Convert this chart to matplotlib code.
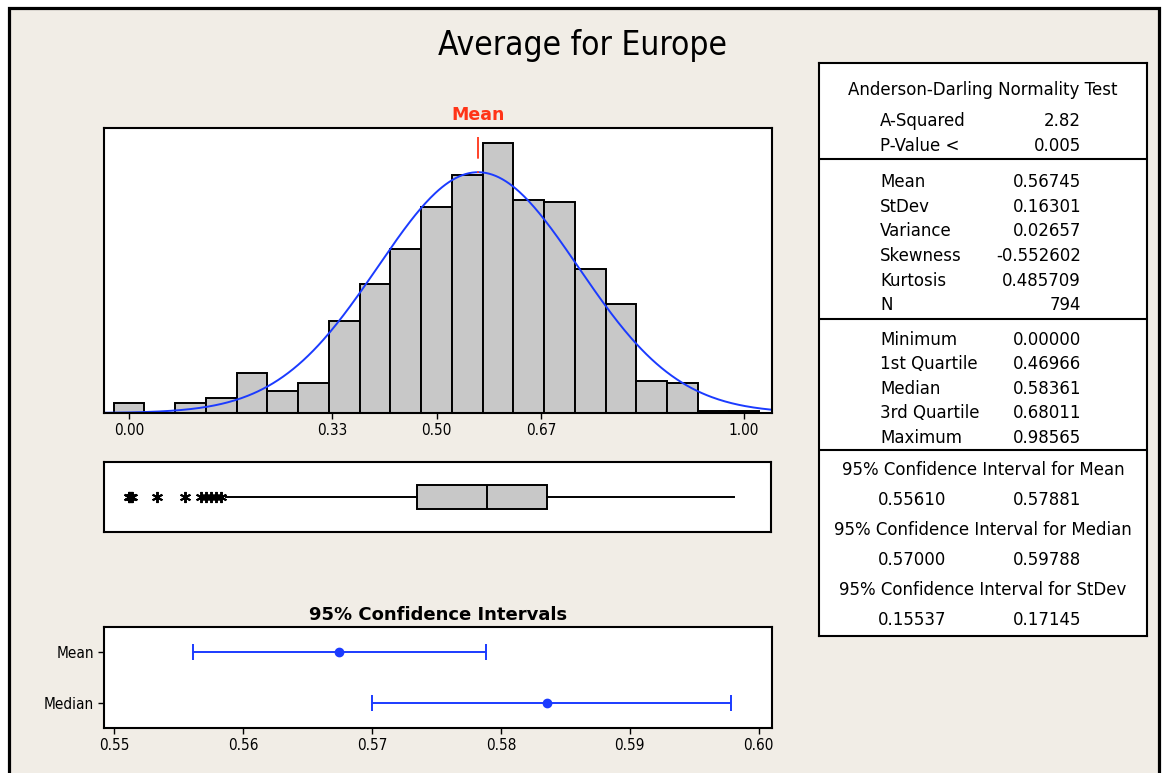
import numpy as np
import matplotlib
matplotlib.use("Agg")
import matplotlib.pyplot as plt
from matplotlib.patches import Rectangle

# ---- data ----
bin_centers = [0.00, 0.05, 0.10, 0.15, 0.20, 0.25, 0.30, 0.35, 0.40, 0.45, 0.50,
               0.55, 0.60, 0.65, 0.70, 0.75, 0.80, 0.85, 0.90, 0.95, 1.00]
bin_counts = [4, 0, 4, 6, 16, 9, 12, 37, 52, 66, 83,
              96, 109, 86, 85, 58, 44, 13, 12, 1, 1]
bin_width = 0.05

n_obs = 794
mean_val = 0.56745
stdev_val = 0.16301

q1, median_val, q3 = 0.46966, 0.58361, 0.68011
whisker_lo, whisker_hi = 0.158, 0.98565
outliers = [0.000, 0.000, 0.003, 0.005, 0.045, 0.092, 0.118, 0.126, 0.134, 0.142, 0.150]

ci_labels = ["Mean", "Median"]
ci_centers = [0.56745, 0.58361]
ci_low = [0.55610, 0.57000]
ci_high = [0.57881, 0.59788]

hist_ticks = [0.00, 0.33, 0.50, 0.67, 1.00]
hist_ticklabels = ["0.00", "0.33", "0.50", "0.67", "1.00"]
ci_ticks = [0.55, 0.56, 0.57, 0.58, 0.59, 0.60]

ad_rows = [("A-Squared", "2.82"), ("P-Value <", "0.005")]
moment_rows = [("Mean", "0.56745"), ("StDev", "0.16301"), ("Variance", "0.02657"),
               ("Skewness", "-0.552602"), ("Kurtosis", "0.485709"), ("N", "794")]
quantile_rows = [("Minimum", "0.00000"), ("1st Quartile", "0.46966"), ("Median", "0.58361"),
                 ("3rd Quartile", "0.68011"), ("Maximum", "0.98565")]
ci_rows = [("95% Confidence Interval for Mean", "0.55610", "0.57881"),
           ("95% Confidence Interval for Median", "0.57000", "0.59788"),
           ("95% Confidence Interval for StDev", "0.15537", "0.17145")]

# ---- style ----
BG = "#F1EDE6"
GREY = "#C8C8C8"
BLUE = "#1B3BFF"
RED = "#FF3418"
W, H = 1164, 773

plt.rcParams["font.family"] = ["DejaVu Sans"]
NARROW = dict(family="DejaVu Sans", fontstretch="condensed")


def px_rect(x0, y0, x1, y1):
    # pixel box (top-left origin) -> figure fraction rect
    return [x0 / W, 1 - y1 / H, (x1 - x0) / W, (y1 - y0) / H]


fig = plt.figure(figsize=(W / 100, H / 100), dpi=100, facecolor="white")
fig.add_artist(Rectangle((8.5 / W, -0.1), (1158.5 - 8.5) / W, 1.1 - 8.5 / H,
                         transform=fig.transFigure, facecolor=BG,
                         edgecolor="black", lw=2.3, zorder=0))

fig.text(582 / W, 1 - 46 / H, "Average for Europe", fontsize=24,
         ha="center", va="center", **NARROW)

xlo, xhi = -0.0407, 1.0455

# ---- histogram ----
ax = fig.add_axes(px_rect(104, 128, 772, 413))
ax.bar(bin_centers, bin_counts, width=bin_width, color=GREY,
       edgecolor="black", linewidth=1.4)
xs = np.linspace(xlo, xhi, 400)
pdf = n_obs * bin_width / (stdev_val * np.sqrt(2 * np.pi)) * \
    np.exp(-0.5 * ((xs - mean_val) / stdev_val) ** 2)
ax.plot(xs, pdf, color=BLUE, lw=1.4)
ax.plot([mean_val, mean_val], [111.5, 97], color=RED, lw=1.3,
        dashes=(12, 7, 3, 20))
ax.set_xlim(xlo, xhi)
ax.set_ylim(0, 115)
ax.set_facecolor("white")
ax.set_yticks([])
ax.set_xticks(hist_ticks)
ax.set_xticklabels(hist_ticklabels, fontsize=11, **NARROW)
ax.tick_params(axis="x", length=4, width=1, pad=3)
for s in ax.spines.values():
    s.set_linewidth(1.5)
ax.text(mean_val, 1.015, "Mean", transform=ax.get_xaxis_transform(),
        color=RED, fontsize=12.5, fontweight="bold", ha="center", va="bottom")

# ---- boxplot ----
axb = fig.add_axes(px_rect(104, 462, 771, 532))
stats = [dict(med=median_val, q1=q1, q3=q3, whislo=whisker_lo,
              whishi=whisker_hi, fliers=outliers)]
axb.bxp(stats, positions=[0.5], widths=0.34, vert=False, showcaps=False,
        patch_artist=True,
        boxprops=dict(facecolor=GREY, edgecolor="black", linewidth=1.4),
        medianprops=dict(color="black", linewidth=1.4),
        whiskerprops=dict(color="black", linewidth=1.4),
        flierprops=dict(marker=(6, 2, 0), markersize=8,
                        markeredgecolor="black", markeredgewidth=1.4))
axb.set_xlim(xlo, xhi)
axb.set_ylim(0, 1)
axb.set_facecolor("white")
axb.set_xticks([])
axb.set_yticks([])
for s in axb.spines.values():
    s.set_linewidth(1.5)

# ---- confidence intervals ----
axc = fig.add_axes(px_rect(104, 627, 772, 728))
ypos = [1, 0]
for y, c, lo, hi in zip(ypos, ci_centers, ci_low, ci_high):
    axc.errorbar([c], [y], xerr=[[c - lo], [hi - c]], fmt="o", color=BLUE,
                 ecolor=BLUE, elinewidth=1.4, capsize=6, capthick=1.4,
                 markersize=6)
axc.set_xlim(0.5492, 0.60104)
axc.set_ylim(-0.5, 1.5)
axc.set_facecolor("white")
axc.set_yticks(ypos)
axc.set_yticklabels(ci_labels, fontsize=11, **NARROW)
axc.set_xticks(ci_ticks)
axc.set_xticklabels([f"{t:.2f}" for t in ci_ticks], fontsize=11, **NARROW)
axc.tick_params(length=4, width=1, pad=3)
for s in axc.spines.values():
    s.set_linewidth(1.5)
axc.set_title("95% Confidence Intervals", fontsize=13, fontweight="bold", pad=5)

# ---- summary table ----
axt = fig.add_axes(px_rect(819, 63, 1147, 636))
axt.set_xlim(819, 1147)
axt.set_ylim(636, 63)
axt.set_facecolor("white")
axt.set_xticks([])
axt.set_yticks([])
for s in axt.spines.values():
    s.set_linewidth(1.5)
for y in [159, 319, 450]:
    axt.axhline(y, color="black", lw=1.5)

fs = 12
lab_x, val_x = 880, 1081
axt.text(983, 90, "Anderson-Darling Normality Test", fontsize=fs,
         ha="center", va="center")
for i, (lab, val) in enumerate(ad_rows):
    y = 121 + 25 * i
    axt.text(lab_x, y, lab, fontsize=fs, ha="left", va="center")
    axt.text(val_x, y, val, fontsize=fs, ha="right", va="center")
for i, (lab, val) in enumerate(moment_rows):
    y = 182 + 24.7 * i
    axt.text(lab_x, y, lab, fontsize=fs, ha="left", va="center")
    axt.text(val_x, y, val, fontsize=fs, ha="right", va="center")
for i, (lab, val) in enumerate(quantile_rows):
    y = 340 + 24.4 * i
    axt.text(lab_x, y, lab, fontsize=fs, ha="left", va="center")
    axt.text(val_x, y, val, fontsize=fs, ha="right", va="center")
for i, (head, lo, hi) in enumerate(ci_rows):
    y = 470 + 60 * i
    axt.text(983, y, head, fontsize=fs, ha="center", va="center")
    axt.text(946, y + 30, lo, fontsize=fs, ha="right", va="center")
    axt.text(val_x, y + 30, hi, fontsize=fs, ha="right", va="center")

fig.savefig("out.png", dpi=100, facecolor="white")
